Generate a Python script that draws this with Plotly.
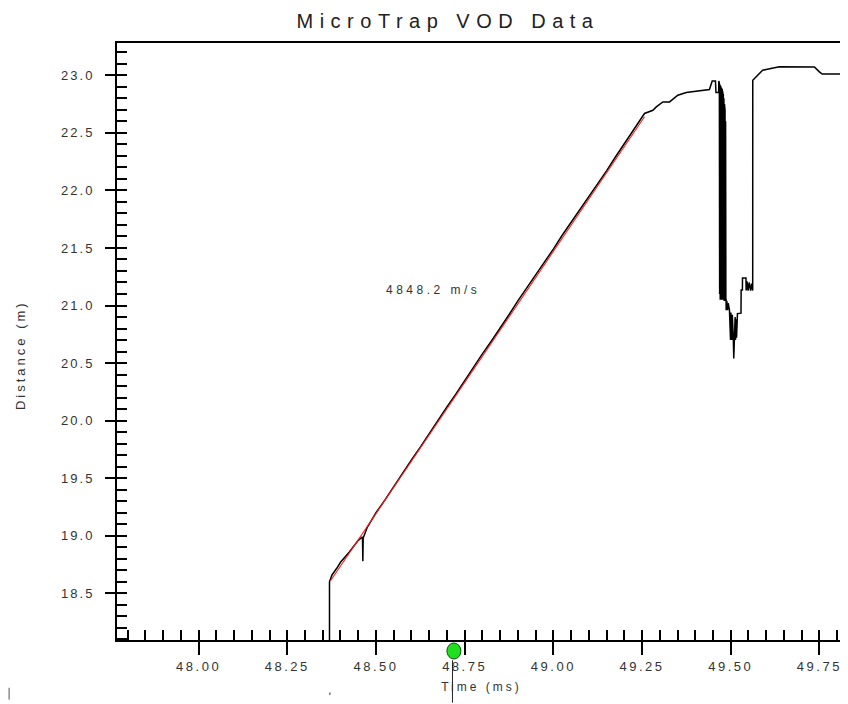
import plotly.graph_objects as go

# ---- data ----
time_ms = [47.770, 48.369, 48.369, 48.376, 48.390, 48.400, 48.425, 48.450, 48.462, 48.463,
           48.464, 48.475, 48.500, 48.525, 48.550, 48.575, 48.600, 48.625, 48.650, 48.675,
           48.700, 48.725, 48.750, 48.775, 48.800, 48.825, 48.850, 48.875, 48.900, 48.925,
           48.950, 48.975, 49.000, 49.025, 49.050, 49.075, 49.100, 49.125, 49.150, 49.175,
           49.200, 49.225, 49.257, 49.2665, 49.2806, 49.2902, 49.3087, 49.3276, 49.351, 49.3746,
           49.412, 49.440, 49.4478, 49.457, 49.4585, 49.4660, 49.4665,
           49.4680, 49.4688, 49.4696, 49.4704, 49.4712, 49.4720, 49.4728, 49.4736, 49.4744, 49.4752,
           49.4760, 49.4768, 49.4776, 49.4784, 49.4792, 49.4800, 49.4808, 49.4816, 49.4824, 49.4832,
           49.4840, 49.4848, 49.4856, 49.4864, 49.4870,
           49.4872, 49.4890, 49.4910, 49.4930, 49.4965,
           49.4975, 49.4985, 49.4995, 49.5005, 49.5015, 49.5025, 49.5035, 49.5045, 49.5055, 49.5065,
           49.5075, 49.5086, 49.5095, 49.5105, 49.5115, 49.5125, 49.5135, 49.5150, 49.5165, 49.5190,
           49.5290, 49.5294, 49.5330, 49.5332, 49.5430, 49.5435, 49.5460, 49.5490, 49.5520, 49.5560,
           49.5590, 49.5620, 49.5622, 49.5670, 49.5810, 49.5900, 49.6370, 49.7360, 49.7500, 49.7580,
           49.8290]
distance_m = [17.90, 17.90, 18.60, 18.66, 18.72, 18.77, 18.86, 18.96, 18.99, 18.78,
              18.98, 19.07, 19.20, 19.31, 19.43, 19.55, 19.66, 19.77, 19.89, 20.01,
              20.12, 20.23, 20.35, 20.46, 20.58, 20.69, 20.80, 20.92, 21.04, 21.15,
              21.26, 21.37, 21.49, 21.61, 21.72, 21.83, 21.95, 22.06, 22.17, 22.29,
              22.40, 22.52, 22.668, 22.681, 22.696, 22.725, 22.768, 22.768, 22.826, 22.850,
              22.864, 22.876, 22.950, 22.950, 22.850, 22.850, 22.950,
              22.93, 21.10, 22.92, 21.05, 22.91, 21.08, 22.90, 21.05, 22.89, 21.06,
              22.88, 21.05, 22.86, 21.06, 22.84, 21.05, 22.80, 21.04, 22.75, 21.05,
              22.70, 21.04, 22.60, 21.05, 21.05,
              20.96, 21.04, 20.96, 21.02, 20.96,
              20.70, 20.95, 20.70, 20.94, 20.70, 20.93, 20.70, 20.92, 20.70, 20.90,
              20.70, 20.54, 20.72, 20.90, 20.70, 20.90, 20.70, 20.88, 20.72, 20.93,
              20.934, 21.134, 21.134, 21.24, 21.24, 21.13, 21.21, 21.13, 21.20, 21.13,
              21.19, 21.13, 22.957, 22.971, 23.015, 23.043, 23.074, 23.072, 23.029, 23.010,
              23.010]

fit_time = [48.372, 49.257]
fit_distance = [18.61, 22.64]

velocity_label = "4848.2 m/s"
label_time, label_distance = 48.6606, 21.134

cursor_time = 48.7197

x_tick_vals = [48.00, 48.25, 48.50, 48.75, 49.00, 49.25, 49.50, 49.75]
x_tick_text = ["48.00", "48.25", "48.50", "48.75", "49.00", "49.25", "49.50", "49.75"]
y_tick_vals = [18.5, 19.0, 19.5, 20.0, 20.5, 21.0, 21.5, 22.0, 22.5, 23.0]
y_tick_text = ["18.5", "19.0", "19.5", "20.0", "20.5", "21.0", "21.5", "22.0", "22.5", "23.0"]

title_text = "MicroTrap VOD Data"
x_title = "Time (ms)"
y_title = "Distance (m)"


def spaced(s, px):
    return '<span style="letter-spacing:%spx">%s</span>' % (px, s)


FONT = "Liberation Sans, Arial, sans-serif"
TXT = "#333333"

# the page body has an 8px margin, so the figure is 8px smaller and offset
W, H = 840, 696

fig = go.Figure()
fig.add_trace(go.Scatter(x=time_ms, y=distance_m, mode="lines",
                         line=dict(color="black", width=1.5), hoverinfo="skip"))
fig.add_trace(go.Scatter(x=fit_time, y=fit_distance, mode="lines",
                         line=dict(color="#ff1a1a", width=1.1), hoverinfo="skip"))

# cursor marker below the axis
fig.add_shape(type="line", xref="x", yref="paper", x0=cursor_time - 0.004, x1=cursor_time - 0.004,
              y0=-0.034, y1=-0.105, line=dict(color="#222222", width=1))
fig.add_shape(type="circle", xref="x", yref="paper", xsizemode="pixel", ysizemode="pixel",
              xanchor=cursor_time, yanchor=-0.0184, x0=-7, x1=7, y0=-8, y1=8,
              fillcolor="#1ee01e", line=dict(color="#1a4a1a", width=1))

# small stray marks below the chart
fig.add_shape(type="line", xref="paper", yref="paper", x0=-0.148, x1=-0.148, y0=-0.080, y1=-0.100,
              line=dict(color="#555555", width=1))
fig.add_shape(type="line", xref="paper", yref="paper", x0=0.292, x1=0.292, y0=-0.088, y1=-0.092,
              line=dict(color="#777777", width=1.5))

fig.add_annotation(x=label_time, y=label_distance, text=spaced(velocity_label, 3.5),
                   showarrow=False, font=dict(family=FONT, size=12, color=TXT))

# y axis title (placed slightly below the plot centre, as in the reference)
fig.add_annotation(xref="paper", yref="paper", x=-0.133, y=(640 - 355) / 597,
                   xanchor="center", yanchor="middle", textangle=-90,
                   text=spaced(y_title, 3), showarrow=False,
                   font=dict(family=FONT, size=13, color=TXT))

fig.update_layout(
    width=W, height=H,
    margin=dict(l=109, r=2, t=35, b=64),
    paper_bgcolor="white", plot_bgcolor="white",
    showlegend=False,
    title=dict(text=spaced(title_text, 6.5), x=(448 - 8) / W, xanchor="center",
               y=1 - (21 - 8) / H, yanchor="middle", yref="container",
               font=dict(family=FONT, size=20, color="#222222")),
)

fig.update_xaxes(
    range=[47.770, 49.825], showgrid=False, zeroline=False, automargin=False,
    showline=True, linecolor="black", linewidth=2, mirror=True,
    tickmode="array", tickvals=x_tick_vals, ticktext=[spaced(t, 2.5) for t in x_tick_text],
    ticks="outside", ticklen=13, tickwidth=2, tickcolor="black",
    tickfont=dict(family=FONT, size=13, color=TXT),
    minor=dict(dtick=0.05, tick0=48.0, ticks="inside", ticklen=10, tickwidth=1.5, tickcolor="black", showgrid=False),
    title=dict(text=spaced(x_title, 3), standoff=10, font=dict(family=FONT, size=12, color=TXT)),
)
fig.update_yaxes(
    range=[18.095, 23.28], showgrid=False, zeroline=False, automargin=False,
    showline=True, linecolor="black", linewidth=2, mirror=True,
    tickmode="array", tickvals=y_tick_vals, ticktext=[spaced(t, 2) for t in y_tick_text],
    ticks="outside", ticklen=10, tickwidth=2, tickcolor="black", ticklabelstandoff=8,
    tickfont=dict(family=FONT, size=13, color=TXT),
    minor=dict(dtick=0.1, tick0=18.0, ticks="inside", ticklen=10, tickwidth=1.5, tickcolor="black", showgrid=False),
)

fig.write_html("out.html")
